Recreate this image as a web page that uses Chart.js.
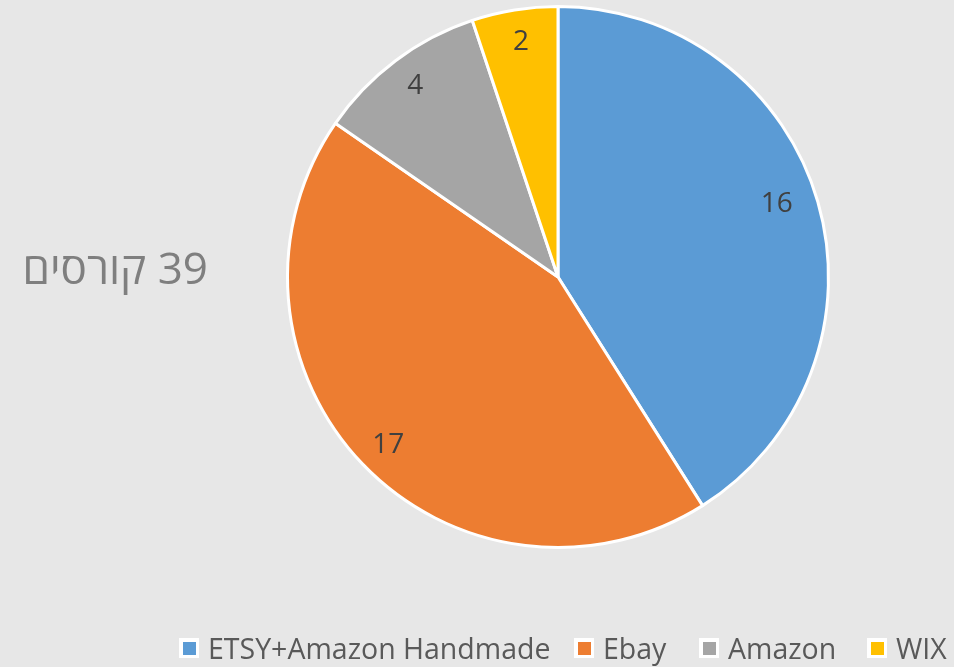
<!DOCTYPE html>
<html>
<head>
<meta charset="utf-8">
<script src="https://cdn.jsdelivr.net/npm/chart.js@4"></script>
<style>
  html,body{margin:0;padding:0;background:#e7e7e7;}
  #wrap{width:954px;height:667px;position:relative;}
</style>
</head>
<body>
<div id="wrap"><canvas id="c" width="954" height="667"></canvas></div>
<script>
const categories = ['ETSY+Amazon Handmade', 'Ebay', 'Amazon', 'WIX'];
const values = [16, 17, 4, 2];
const colors = ['#5b9bd5', '#ed7d31', '#a5a5a5', '#ffc000'];
const titleText = '39 קורסים';

const FONT = '"Open Sans", "DejaVu Sans", sans-serif';
// label placement: [radius ratio, angle offset in degrees]
const labelPlacement = [[0.855, -2.75], [0.877, -0.45], [0.886, 0.4], [0.885, 0.35]];

const extras = {
  id: 'extras',
  afterDatasetsDraw(chart) {
    const ctx = chart.ctx;
    const meta = chart.getDatasetMeta(0);
    ctx.save();
    // data labels
    ctx.fillStyle = '#404040';
    ctx.font = '28px ' + FONT;
    ctx.textAlign = 'center';
    ctx.textBaseline = 'alphabetic';
    meta.data.forEach((arc, i) => {
      const p = arc.getProps(['x','y','startAngle','endAngle','outerRadius'], true);
      const mid = (p.startAngle + p.endAngle) / 2 + labelPlacement[i][1] * Math.PI / 180;
      const r = p.outerRadius * labelPlacement[i][0];
      ctx.fillText(String(values[i]), p.x + Math.cos(mid) * r, p.y + Math.sin(mid) * r + 10);
    });
    // title
    ctx.fillStyle = '#7f7f7f';
    ctx.font = '44px ' + FONT;
    ctx.direction = 'rtl';
    ctx.textAlign = 'right';
    ctx.fillText(titleText, 208, 284);
    ctx.direction = 'ltr';
    // legend
    ctx.font = '28.5px ' + FONT;
    ctx.textAlign = 'left';
    const legendXs = [179, 574, 699, 867];
    const yTop = 638;
    categories.forEach((lab, i) => {
      const x = legendXs[i];
      ctx.fillStyle = '#ffffff';
      ctx.fillRect(x, yTop, 20, 20);
      ctx.fillStyle = colors[i];
      ctx.fillRect(x + 4, yTop + 4, 13, 13);
      ctx.fillStyle = '#595959';
      ctx.fillText(lab, x + 29, 659);
    });
    ctx.restore();
  }
};

new Chart(document.getElementById('c'), {
  type: 'pie',
  data: {
    labels: categories,
    datasets: [{
      data: values,
      backgroundColor: colors,
      borderColor: '#ffffff',
      borderWidth: 3
    }]
  },
  options: {
    responsive: false,
    animation: false,
    layout: { padding: { left: 286, right: 124, top: 5, bottom: 118 } },
    plugins: { legend: { display: false }, tooltip: { enabled: false } }
  },
  plugins: [extras]
});
</script>
</body>
</html>
